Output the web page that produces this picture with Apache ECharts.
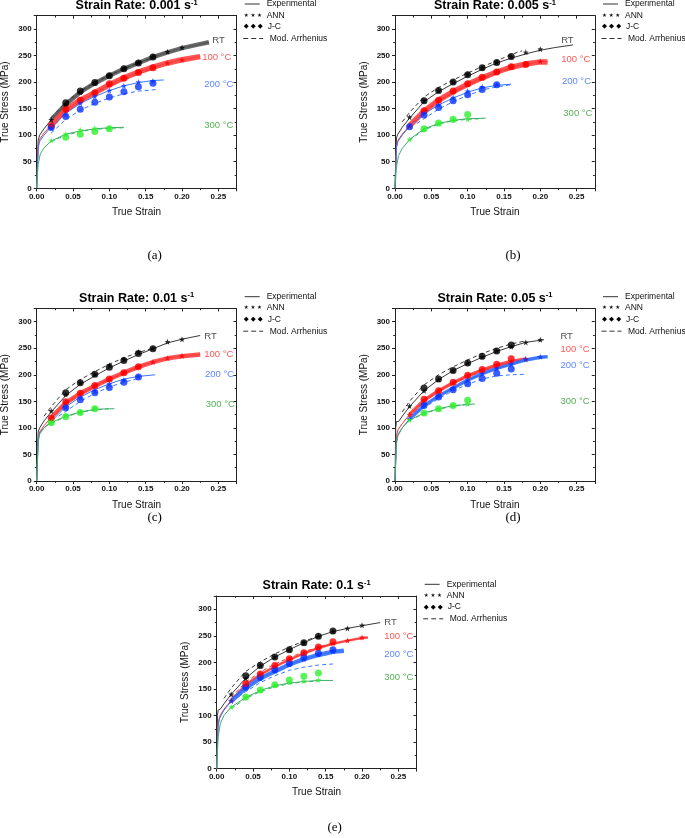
<!DOCTYPE html>
<html><head><meta charset="utf-8">
<script src="https://cdn.jsdelivr.net/npm/echarts@6/dist/echarts.min.js"></script>
<style>html,body{margin:0;padding:0;background:#fff}#c{width:685px;height:838px}</style>
</head><body><div id="c"></div>
<script>
// ---------- data ----------
const temps = ['RT', '100 °C', '200 °C', '300 °C'];
const rates = ['0.001', '0.005', '0.01', '0.05', '0.1'];
const captions = ['(a)', '(b)', '(c)', '(d)', '(e)'];
const markStrains = [0.02, 0.04, 0.06, 0.08, 0.10, 0.12, 0.14, 0.16, 0.18, 0.20];
const strainTicks = [0, 0.05, 0.10, 0.15, 0.20, 0.25];
const stressTicks = [0, 50, 100, 150, 200, 250, 300];

// Panel A: 0.001 s-1
const expA_RT = [[0,0],[0.002,90],[0.004,100],[0.01,112],[0.02,129],[0.04,158],[0.06,181],[0.08,198],[0.10,212],[0.12,225],[0.14,236],[0.16,247],[0.18,256],[0.20,264],[0.22,270],[0.237,275]];
const expA_100 = [[0,0],[0.002,80],[0.004,92],[0.01,104],[0.02,119],[0.04,148],[0.06,166],[0.08,180],[0.10,195],[0.12,208],[0.14,219],[0.16,228],[0.18,236],[0.20,242],[0.225,248]];
const expA_200 = [[0,0],[0.002,75],[0.004,88],[0.01,100],[0.02,116],[0.04,141],[0.06,160],[0.08,173],[0.10,184],[0.12,193],[0.14,199],[0.16,203],[0.175,204]];
const expA_300 = [[0,0],[0.002,45],[0.005,65],[0.01,76],[0.02,89],[0.04,102],[0.06,108],[0.08,112],[0.10,114],[0.12,115]];
const annA_RT = [129,158,181,198,213,226,237,248,257,265];
const annA_100 = [118,147,165,180,195,207,219,228,236,242];
const annA_200 = [113,139,160,173,184,193,200,202];
const annA_300 = [90,102,110,113,114];
const jcA_RT = [null,161,183,199,212,225,236,247];
const jcA_100 = [118,149,166,180,197,207,218,227];
const jcA_200 = [115,135,149,162,172,182,191,198];
const jcA_300 = [null,96,102,107,112];
const arrA_RT = [[0.02,133],[0.04,162],[0.06,183],[0.08,199],[0.10,213],[0.12,225],[0.14,236],[0.16,246]];
const arrA_100 = [[0.02,112],[0.04,143],[0.06,163],[0.08,179],[0.10,193],[0.12,205],[0.14,216],[0.16,225]];
const arrA_200 = [[0.02,104],[0.04,130],[0.06,147],[0.08,160],[0.10,170],[0.12,178],[0.14,183],[0.165,186]];
const arrA_300 = [[0.02,88],[0.04,100],[0.06,107],[0.08,111],[0.10,113],[0.12,114]];
const labA = [[0.241,278],[0.227,247],[0.230,196],[0.230,119]];

// Panel B: 0.005 s-1
const expB_RT = [[0,0],[0.002,95],[0.004,102],[0.01,115],[0.02,132],[0.04,163],[0.06,182],[0.08,197],[0.10,211],[0.12,224],[0.14,236],[0.16,245],[0.18,253],[0.20,260],[0.22,265],[0.245,270]];
const expB_100 = [[0,0],[0.002,78],[0.004,90],[0.01,102],[0.02,118],[0.04,145],[0.06,166],[0.08,182],[0.10,196],[0.12,208],[0.14,219],[0.16,228],[0.18,234],[0.20,238],[0.21,238]];
const expB_200 = [[0,0],[0.002,76],[0.004,88],[0.01,100],[0.02,117],[0.04,140],[0.06,157],[0.08,170],[0.10,181],[0.12,189],[0.14,194],[0.16,196]];
const expB_300 = [[0,0],[0.002,40],[0.005,62],[0.01,75],[0.02,92],[0.04,112],[0.06,122],[0.08,128],[0.10,131],[0.125,132]];
const annB_RT = [134,165,184,200,215,227,237,248,256,262];
const annB_100 = [117,145,165,182,196,208,219,229,234,239];
const annB_200 = [117,141,157,171,183,191,195];
const annB_300 = [92,111,122,128,130];
const jcB_RT = [null,165,184,200,214,227,237,248];
const jcB_100 = [null,146,166,183,197,209,219,229,233];
const jcB_200 = [116,138,152,165,176,186,195];
const jcB_300 = [null,112,123,130,139];
const arrB_RT = [[0.01,125],[0.02,143],[0.04,172],[0.06,190],[0.08,204],[0.10,217],[0.12,229],[0.14,240],[0.16,252],[0.175,259]];
const arrB_100 = [[0.02,115],[0.04,143],[0.06,163],[0.08,180],[0.10,194],[0.12,206],[0.14,217],[0.16,226]];
const arrB_200 = [[0.03,122],[0.04,131],[0.06,149],[0.08,163],[0.10,175],[0.12,185],[0.14,191],[0.16,195]];
const arrB_300 = [[0.02,91],[0.04,110],[0.06,121],[0.08,127],[0.10,130],[0.12,131]];
const labB = [[0.228,278],[0.228,242],[0.229,201],[0.231,141]];

// Panel C: 0.01 s-1
const expC_RT = [[0,0],[0.002,92],[0.004,100],[0.01,113],[0.02,130],[0.04,161],[0.06,182],[0.08,198],[0.10,213],[0.12,226],[0.14,238],[0.16,249],[0.18,260],[0.20,267],[0.225,274]];
const expC_100 = [[0,0],[0.002,80],[0.004,92],[0.01,104],[0.02,120],[0.04,147],[0.06,165],[0.08,179],[0.10,192],[0.12,204],[0.14,215],[0.16,224],[0.18,231],[0.20,235],[0.225,238]];
const expC_200 = [[0,0],[0.002,78],[0.004,90],[0.01,100],[0.02,112],[0.04,140],[0.06,158],[0.08,172],[0.10,183],[0.12,192],[0.14,197],[0.163,200]];
const expC_300 = [[0,0],[0.002,72],[0.004,88],[0.01,100],[0.02,110],[0.04,122],[0.06,130],[0.08,135],[0.10,136],[0.107,136]];
const annC_RT = [132,163,185,201,218,229,243,250,262,267];
const annC_100 = [118,148,165,179,192,204,215,224,231,236];
const annC_200 = [null,139,157,170,183,190,197];
const annC_300 = [109,124,130,137];
const jcC_RT = [null,166,185,201,214,227,240,249];
const jcC_100 = [118,149,165,180,192,204,215];
const jcC_200 = [null,138,153,166,176,186,196];
const jcC_300 = [110,121,129,136];
const arrC_RT = [[0.01,122],[0.02,140],[0.04,172],[0.06,191],[0.08,206],[0.10,220],[0.12,232],[0.14,242],[0.16,250]];
const arrC_100 = [[0.02,116],[0.04,145],[0.06,163],[0.08,178],[0.10,191],[0.12,203],[0.14,213]];
const arrC_200 = [[0.03,122],[0.04,131],[0.06,150],[0.08,165],[0.10,177],[0.12,186],[0.14,193]];
const arrC_300 = [[0.02,109],[0.04,121],[0.06,129],[0.08,134],[0.10,136]];
const labC = [[0.230,273],[0.230,239],[0.231,201],[0.232,144]];

// Panel D: 0.05 s-1
const expD_RT = [[0,0],[0.001,100],[0.002,112],[0.005,112],[0.01,122],[0.02,140],[0.04,170],[0.06,191],[0.08,208],[0.10,221],[0.12,233],[0.14,244],[0.16,253],[0.18,261],[0.205,266]];
const expD_100 = [[0,0],[0.002,85],[0.004,96],[0.01,108],[0.02,125],[0.04,152],[0.06,170],[0.08,185],[0.10,198],[0.12,209],[0.14,218],[0.16,225],[0.18,230]];
const expD_200 = [[0,0],[0.002,75],[0.004,88],[0.01,100],[0.02,117],[0.04,142],[0.06,160],[0.08,175],[0.10,190],[0.12,202],[0.14,212],[0.16,220],[0.18,228],[0.20,233],[0.21,234]];
const expD_300 = [[0,0],[0.002,70],[0.004,85],[0.01,100],[0.02,115],[0.04,128],[0.06,136],[0.08,142],[0.10,144],[0.11,145]];
const annD_RT = [141,170,191,208,222,234,245,253,261,266];
const annD_100 = [125,152,170,185,198,209,218,225,230];
const annD_200 = [117,145,160,175,190,202,212,220,229,234];
const annD_300 = [115,128,136,142,145];
const jcD_RT = [null,175,192,208,222,235,245,256];
const jcD_100 = [null,154,170,186,199,210,220,230];
const jcD_200 = [null,142,158,172,183,193,203,211];
const jcD_300 = [null,128,136,142,152];
const arrD_RT = [[0.01,130],[0.02,150],[0.04,181],[0.06,200],[0.08,215],[0.10,228],[0.12,240],[0.14,250],[0.16,258],[0.18,264]];
const arrD_100 = [[0.02,120],[0.04,150],[0.06,168],[0.08,183],[0.10,196],[0.12,207],[0.14,216],[0.16,223]];
const arrD_200 = [[0.03,128],[0.04,138],[0.06,155],[0.08,170],[0.10,182],[0.12,192],[0.14,198],[0.16,200],[0.18,201]];
const arrD_300 = [[0.02,114],[0.04,127],[0.06,135],[0.08,141],[0.10,144]];
const labD = [[0.227,273],[0.227,247],[0.227,217],[0.227,149]];

// Panel E: 0.1 s-1
const expE_RT = [[0,0],[0.001,100],[0.002,110],[0.005,112],[0.01,122],[0.02,140],[0.04,170],[0.06,193],[0.08,210],[0.10,224],[0.12,237],[0.14,249],[0.16,258],[0.18,264],[0.20,269],[0.225,275]];
const expE_100 = [[0,0],[0.002,85],[0.004,98],[0.01,112],[0.02,128],[0.04,158],[0.06,177],[0.08,192],[0.10,205],[0.12,217],[0.14,227],[0.16,235],[0.18,241],[0.20,246],[0.208,247]];
const expE_200 = [[0,0],[0.002,80],[0.004,95],[0.01,110],[0.02,127],[0.04,152],[0.06,170],[0.08,183],[0.10,196],[0.12,206],[0.14,214],[0.16,220],[0.175,222]];
const expE_300 = [[0,0],[0.002,60],[0.005,85],[0.01,100],[0.02,116],[0.04,134],[0.06,147],[0.08,156],[0.10,161],[0.12,164],[0.14,166],[0.16,166]];
const annE_RT = [140,170,194,210,224,237,249,258,264,270];
const annE_100 = [128,158,177,193,206,217,228,236,241,247];
const annE_200 = [127,152,170,184,196,206,215,221];
const annE_300 = [116,134,147,157,162,165,167];
const jcE_RT = [null,175,194,210,224,237,249,259];
const jcE_100 = [null,160,178,194,207,218,229,239];
const jcE_200 = [null,153,172,186,198,209,217,224];
const jcE_300 = [null,135,148,158,167,174,180];
const arrE_RT = [[0.01,132],[0.02,152],[0.04,183],[0.06,201],[0.08,216],[0.10,229],[0.12,240],[0.14,249]];
const arrE_100 = [[0.02,134],[0.04,163],[0.06,182],[0.08,197],[0.10,209],[0.12,220],[0.14,229],[0.16,236]];
const arrE_200 = [[0.03,135],[0.04,145],[0.06,162],[0.08,175],[0.10,185],[0.12,191],[0.14,195],[0.16,197]];
const arrE_300 = [[0.02,113],[0.04,132],[0.06,145],[0.08,154],[0.10,160],[0.12,163],[0.14,165]];
const labE = [[0.230,276],[0.230,249],[0.230,215],[0.230,172]];

// ---------- styles / layout ----------
const FONT = 'Liberation Sans, Arial, Helvetica, sans-serif';
const lineColors = ['#3a3a3a', '#ff3030', '#3a78ff', '#3fae6a'];
const bandColors = ['#555555', '#ff3b3b', '#2f6cff', '#3fae6a'];
const markColors = ['#000000', '#ff0000', '#0a33ff', '#2ff02f'];
const labelColors = ['#1a1a1a', '#ff2a2a', '#3366ff', '#2a9a2a'];
const PXW = 199.8, PXH = 172.6, TOPPAD = 13.3;

const panels = [
  { x0: 36.7, y300: 29.0, capY: 256, exp: [expA_RT, expA_100, expA_200, expA_300], ann: [annA_RT, annA_100, annA_200, annA_300], jc: [jcA_RT, jcA_100, jcA_200, jcA_300], arr: [arrA_RT, arrA_100, arrA_200, arrA_300], lab: labA, bands: [4.5, 5.5, 0, 0] },
  { x0: 395.0, y300: 29.0, capY: 256, exp: [expB_RT, expB_100, expB_200, expB_300], ann: [annB_RT, annB_100, annB_200, annB_300], jc: [jcB_RT, jcB_100, jcB_200, jcB_300], arr: [arrB_RT, arrB_100, arrB_200, arrB_300], lab: labB, bands: [0, 5.5, 0, 0] },
  { x0: 36.7, y300: 321.7, capY: 518, exp: [expC_RT, expC_100, expC_200, expC_300], ann: [annC_RT, annC_100, annC_200, annC_300], jc: [jcC_RT, jcC_100, jcC_200, jcC_300], arr: [arrC_RT, arrC_100, arrC_200, arrC_300], lab: labC, bands: [0, 4.5, 0, 0] },
  { x0: 395.0, y300: 321.7, capY: 518, exp: [expD_RT, expD_100, expD_200, expD_300], ann: [annD_RT, annD_100, annD_200, annD_300], jc: [jcD_RT, jcD_100, jcD_200, jcD_300], arr: [arrD_RT, arrD_100, arrD_200, arrD_300], lab: labD, bands: [0, 3.5, 3.5, 0] },
  { x0: 216.7, y300: 609.3, capY: 828, exp: [expE_RT, expE_100, expE_200, expE_300], ann: [annE_RT, annE_100, annE_200, annE_300], jc: [jcE_RT, jcE_100, jcE_200, jcE_300], arr: [arrE_RT, arrE_100, arrE_200, arrE_300], lab: labE, bands: [0, 2.5, 4.5, 0] }
];

const STAR = (function () {
  let p = 'path://';
  for (let k = 0; k < 10; k++) {
    const r = k % 2 ? 0.42 : 1, a = -Math.PI / 2 + k * Math.PI / 5;
    p += (k ? 'L' : 'M') + (r * Math.cos(a)).toFixed(3) + ' ' + (r * Math.sin(a)).toFixed(3) + ' ';
  }
  return p + 'Z';
})();

const near = (arr, v) => arr.some(t => Math.abs(t - v) < 1e-9);

const grid = [], xAxis = [], yAxis = [], series = [], graphic = [];
const axisLineStyle = { color: '#222', width: 1 };

panels.forEach((p, i) => {
  grid.push({ left: p.x0, top: p.y300 - TOPPAD, width: PXW, height: PXH, containLabel: false, outerBoundsMode: 'none' });
  const xBase = { type: 'value', gridIndex: i, min: 0, max: 0.275, interval: 0.05, splitLine: { show: false },
    axisLine: { show: true, onZero: false, lineStyle: axisLineStyle } };
  const yBase = { type: 'value', gridIndex: i, min: 0, max: 325, interval: 50, splitLine: { show: false },
    axisLine: { show: true, onZero: false, lineStyle: axisLineStyle } };
  xAxis.push(Object.assign({}, xBase, {
    position: 'bottom', name: 'True Strain', nameLocation: 'middle', nameGap: 19,
    nameTextStyle: { fontFamily: FONT, fontSize: 10, color: '#111' },
    axisTick: { show: true, inside: false, length: 3, lineStyle: axisLineStyle },
    minorTick: { show: true, splitNumber: 2, length: 1.8, lineStyle: axisLineStyle },
    axisLabel: { show: true, margin: 4, fontFamily: FONT, fontSize: 8, fontWeight: 'bold', color: '#111',
      formatter: v => near(strainTicks, v) ? v.toFixed(2) : '' }
  }));
  xAxis.push(Object.assign({}, xBase, {
    position: 'top', axisTick: { show: true, inside: true, length: 3, lineStyle: axisLineStyle },
    minorTick: { show: true, splitNumber: 2, length: 1.8, lineStyle: axisLineStyle }, axisLabel: { show: false }
  }));
  yAxis.push(Object.assign({}, yBase, {
    position: 'left', name: 'True Stress (MPa)', nameLocation: 'middle', nameGap: 26,
    nameTextStyle: { fontFamily: FONT, fontSize: 10, color: '#111' },
    axisTick: { show: true, inside: false, length: 3, lineStyle: axisLineStyle },
    minorTick: { show: true, splitNumber: 2, length: 1.8, lineStyle: axisLineStyle },
    axisLabel: { show: true, margin: 5, fontFamily: FONT, fontSize: 8, fontWeight: 'bold', color: '#111',
      formatter: v => near(stressTicks, v) ? String(v) : '' }
  }));
  yAxis.push(Object.assign({}, yBase, {
    position: 'right', axisTick: { show: true, inside: true, length: 3, lineStyle: axisLineStyle },
    minorTick: { show: true, splitNumber: 2, length: 1.8, lineStyle: axisLineStyle }, axisLabel: { show: false }
  }));
  const ax = { xAxisIndex: 2 * i, yAxisIndex: 2 * i };

  for (let t = 0; t < 4; t++) {
    // experimental curve
    series.push(Object.assign({ type: 'line', data: p.exp[t], symbol: 'none', z: 2, silent: true,
      lineStyle: { color: lineColors[t], width: 1 } }, ax));
    if (p.bands[t] > 0) {
      series.push(Object.assign({ type: 'line', data: p.exp[t].filter(d => d[0] >= 0.015), symbol: 'none', z: 2, silent: true,
        lineStyle: { color: bandColors[t], width: p.bands[t], opacity: 0.88 } }, ax));
    }
    // Mod. Arrhenius
    series.push(Object.assign({ type: 'line', data: p.arr[t], symbol: 'none', z: 3, silent: true,
      lineStyle: { color: lineColors[t], width: 1, type: [4, 3] } }, ax));
  }
  for (let t = 0; t < 4; t++) {
    // J-C
    series.push(Object.assign({ type: 'scatter', z: 4, silent: true, symbol: 'circle', symbolSize: 7,
      itemStyle: { color: markColors[t] },
      data: p.jc[t].map((v, k) => v == null ? null : [markStrains[k], v]).filter(Boolean) }, ax));
    // ANN
    series.push(Object.assign({ type: 'scatter', z: 5, silent: true, symbol: STAR, symbolSize: 6,
      itemStyle: { color: markColors[t] },
      data: p.ann[t].map((v, k) => v == null ? null : [markStrains[k], v]).filter(Boolean) }, ax));
  }
  // temperature labels
  series.push(Object.assign({ type: 'scatter', z: 6, silent: true, symbolSize: 1, itemStyle: { color: 'rgba(0,0,0,0)' },
    data: p.lab.map((d, t) => ({ value: d, name: temps[t], label: { color: labelColors[t] } })),
    label: { show: true, position: 'right', distance: 0, fontFamily: FONT, fontSize: 9.5, formatter: q => q.name } }, ax));

  // title
  graphic.push({ type: 'text', x: p.x0 + PXW / 2, y: p.y300 - 23.5, silent: true,
    style: { text: '{m|Strain Rate: ' + rates[i] + ' s}{s|-1}', textAlign: 'center', textVerticalAlign: 'middle',
      rich: { m: { fontFamily: FONT, fontSize: 12.5, fontWeight: 'bold', fill: '#000', lineHeight: 14 },
              s: { fontFamily: FONT, fontSize: 7.5, fontWeight: 'bold', fill: '#000', verticalAlign: 'top', lineHeight: 14 } } } });
  // legend
  const lx = p.x0 + 208, ly = p.y300 - 25;
  graphic.push({ type: 'line', silent: true, shape: { x1: lx, y1: ly, x2: lx + 15, y2: ly }, style: { stroke: '#333', lineWidth: 1 } });
  graphic.push({ type: 'text', silent: true, x: lx + 22, y: ly, style: { text: 'Experimental', font: '8.5px ' + FONT, fill: '#111', textVerticalAlign: 'middle' } });
  graphic.push({ type: 'text', silent: true, x: lx - 1, y: ly + 11.3, style: { text: '★ ★ ★', font: '5.5px DejaVu Sans', fill: '#111', textVerticalAlign: 'middle' } });
  graphic.push({ type: 'text', silent: true, x: lx + 22, y: ly + 11.3, style: { text: 'ANN', font: '8.5px ' + FONT, fill: '#111', textVerticalAlign: 'middle' } });
  graphic.push({ type: 'text', silent: true, x: lx - 1, y: ly + 22.7, style: { text: '◆ ◆ ◆', font: '6.5px DejaVu Sans', fill: '#000', textVerticalAlign: 'middle' } });
  graphic.push({ type: 'text', silent: true, x: lx + 23, y: ly + 22.7, style: { text: 'J-C', font: '8.5px ' + FONT, fill: '#111', textVerticalAlign: 'middle' } });
  graphic.push({ type: 'line', silent: true, shape: { x1: lx - 1.5, y1: ly + 34.5, x2: lx + 18.5, y2: ly + 34.5 }, style: { stroke: '#333', lineWidth: 1, lineDash: [5, 3] } });
  graphic.push({ type: 'text', silent: true, x: lx + 25, y: ly + 34.5, style: { text: 'Mod. Arrhenius', font: '8.5px ' + FONT, fill: '#111', textVerticalAlign: 'middle' } });
  // caption
  graphic.push({ type: 'text', silent: true, x: p.x0 + 118, y: p.capY, style: { text: captions[i], font: '13px Liberation Serif, Times New Roman, serif', fill: '#000', textAlign: 'center', textVerticalAlign: 'middle' } });
});

const chart = echarts.init(document.getElementById('c'), null, { renderer: 'canvas' });
chart.setOption({ animation: false, backgroundColor: '#fff', grid, xAxis, yAxis, series, graphic });
</script>
</body></html>
